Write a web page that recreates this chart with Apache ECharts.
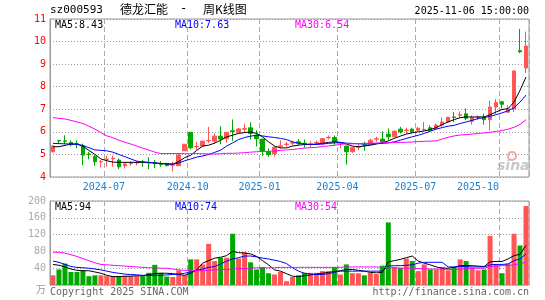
<!DOCTYPE html>
<html>
<head>
<meta charset="utf-8">
<script src="https://cdn.jsdelivr.net/npm/echarts@6/dist/echarts.min.js"></script>
<style>
  html, body { margin: 0; padding: 0; background: #fff; }
  #main { width: 545px; height: 300px; }
</style>
</head>
<body>
<div id="main"></div>
<script>
// 周K线 日期
var dates = [
  '2024-04-30','2024-05-10','2024-05-17','2024-05-24','2024-05-31','2024-06-07','2024-06-14','2024-06-21','2024-06-28','2024-07-05',
  '2024-07-12','2024-07-19','2024-07-26','2024-08-02','2024-08-09','2024-08-16','2024-08-23','2024-08-30','2024-09-06','2024-09-13',
  '2024-09-20','2024-09-27','2024-09-30','2024-10-11','2024-10-18','2024-10-25','2024-11-01','2024-11-08','2024-11-15','2024-11-22',
  '2024-11-29','2024-12-06','2024-12-13','2024-12-20','2024-12-27','2025-01-03','2025-01-10','2025-01-17','2025-01-24','2025-01-27',
  '2025-02-07','2025-02-14','2025-02-21','2025-02-28','2025-03-07','2025-03-14','2025-03-21','2025-03-28','2025-04-03','2025-04-11',
  '2025-04-18','2025-04-25','2025-04-30','2025-05-09','2025-05-16','2025-05-23','2025-05-30','2025-06-06','2025-06-13','2025-06-20',
  '2025-06-27','2025-07-04','2025-07-11','2025-07-18','2025-07-25','2025-08-01','2025-08-08','2025-08-15','2025-08-22','2025-08-29',
  '2025-09-05','2025-09-12','2025-09-19','2025-09-26','2025-09-30','2025-10-10','2025-10-17','2025-10-24','2025-10-31','2025-11-06'
];

// [开盘, 收盘, 最低, 最高]
var kData = [
  [5.12,5.37,5.08,5.42],[5.62,5.60,5.50,5.63],[5.60,5.58,5.45,5.85],[5.53,5.43,5.35,5.62],[5.47,5.45,5.28,5.62],
  [5.37,4.97,4.52,5.48],[5.02,5.00,4.78,5.12],[4.90,4.68,4.50,4.97],[4.67,4.69,4.42,4.75],[4.78,4.80,4.45,4.95],
  [4.80,4.83,4.45,4.95],[4.75,4.45,4.35,4.82],[4.50,4.58,4.38,4.65],[4.59,4.61,4.50,4.70],[4.62,4.64,4.52,4.72],
  [4.66,4.64,4.45,4.75],[4.64,4.62,4.35,4.88],[4.63,4.61,4.40,4.75],[4.57,4.55,4.45,4.70],[4.60,4.50,4.48,4.62],
  [4.52,4.54,4.25,4.68],[4.50,4.97,4.50,5.05],[5.16,5.45,5.16,5.45],[5.98,5.30,5.22,5.98],[5.33,5.35,5.20,5.55],
  [5.37,5.59,5.37,5.59],[5.60,5.62,5.50,6.22],[5.59,5.81,5.50,5.93],[5.81,5.68,5.45,6.25],[5.70,5.98,5.52,5.98],
  [6.05,6.02,5.60,6.55],[5.98,6.13,5.98,6.18],[6.12,6.14,5.98,6.36],[6.18,5.93,5.67,6.43],[5.85,5.70,5.35,6.07],
  [5.68,5.15,4.94,5.68],[5.12,5.00,4.90,5.26],[5.04,5.32,4.90,5.34],[5.36,5.38,5.26,5.63],[5.44,5.46,5.34,5.56],
  [5.50,5.52,5.40,5.60],[5.56,5.50,5.40,5.68],[5.50,5.48,5.30,5.66],[5.45,5.47,5.30,5.60],[5.51,5.53,5.43,5.62],
  [5.50,5.70,5.40,5.70],[5.74,5.76,5.66,5.84],[5.75,5.56,5.42,5.84],[5.50,5.52,5.27,5.56],[5.37,5.12,4.55,5.37],
  [5.12,5.30,5.07,5.34],[5.32,5.34,5.20,5.44],[5.42,5.40,5.16,5.56],[5.46,5.63,5.41,5.70],[5.68,5.70,5.56,5.78],
  [5.68,5.56,5.47,6.03],[5.90,5.78,5.63,6.15],[5.78,6.03,5.75,6.07],[6.12,6.00,5.93,6.22],[6.06,6.08,5.93,6.18],
  [6.12,6.00,5.93,6.18],[6.07,6.16,6.03,6.22],[6.09,6.11,6.03,6.44],[6.18,6.07,6.00,6.29],[6.15,6.30,6.07,6.37],
  [6.30,6.44,6.22,6.63],[6.44,6.65,6.41,6.65],[6.66,6.64,6.44,6.88],[6.74,6.76,6.60,6.91],[6.80,6.60,6.52,7.03],
  [6.47,6.62,6.32,6.73],[6.64,6.66,6.52,6.73],[6.66,6.54,6.32,6.81],[6.54,7.10,6.06,7.38],[7.10,7.30,6.80,7.45],
  [7.33,7.22,7.04,7.38],[6.87,7.02,6.84,7.18],[7.02,8.70,6.88,8.70],[9.60,9.55,9.49,10.56],[8.83,9.80,8.60,10.44]
];

var ma5 = [
  5.34,5.34,5.40,5.46,5.46,5.36,5.18,5.00,4.80,4.72,4.66,4.65,4.65,4.65,4.65,4.65,4.64,4.62,4.60,4.58,
  4.57,4.68,4.86,4.96,5.18,5.37,5.41,5.50,5.63,5.78,5.85,5.93,5.97,5.99,5.93,5.78,5.56,5.37,5.29,5.29,
  5.37,5.41,5.44,5.44,5.46,5.49,5.53,5.56,5.53,5.46,5.37,5.34,5.37,5.41,5.46,5.51,5.60,5.71,5.81,5.90,
  5.96,6.00,6.04,6.10,6.19,6.32,6.44,6.54,6.63,6.66,6.66,6.66,6.66,6.76,6.88,6.99,7.03,7.32,7.84,8.43
];
var ma10 = [
  5.49,5.48,5.47,5.46,5.45,5.40,5.30,5.20,5.18,5.16,5.10,5.00,4.90,4.80,4.70,4.67,4.65,4.62,4.60,4.58,
  4.57,4.62,4.72,4.80,4.88,4.93,5.00,5.09,5.19,5.37,5.51,5.66,5.75,5.81,5.85,5.82,5.78,5.75,5.71,5.66,
  5.56,5.49,5.46,5.44,5.44,5.46,5.49,5.51,5.53,5.50,5.49,5.47,5.46,5.46,5.49,5.49,5.51,5.56,5.63,5.71,
  5.78,5.85,5.93,6.03,6.12,6.19,6.25,6.29,6.37,6.44,6.51,6.59,6.63,6.69,6.76,6.84,6.93,7.07,7.32,7.63
];
var ma30 = [
  6.63,6.60,6.57,6.51,6.44,6.37,6.25,6.12,5.97,5.82,5.74,5.63,5.54,5.46,5.37,5.28,5.19,5.10,5.04,5.04,
  5.04,5.04,5.03,5.03,5.04,5.03,5.02,5.02,5.03,5.05,5.05,5.06,5.08,5.10,5.12,5.13,5.14,5.15,5.18,5.20,
  5.22,5.25,5.28,5.30,5.31,5.35,5.38,5.40,5.45,5.47,5.47,5.48,5.49,5.50,5.50,5.52,5.52,5.53,5.53,5.54,
  5.55,5.57,5.58,5.59,5.60,5.68,5.76,5.82,5.86,5.88,5.90,5.93,5.95,5.98,6.02,6.06,6.12,6.20,6.33,6.54
];

// 成交量（万手）
var volumes = [
  23,37,51,31,31,35,21,23,23,21,21,21,21,21,21,21,29,48,29,20,
  19,35,23,61,61,49,98,57,65,65,122,63,78,54,37,43,28,25,31,9,
  19,23,29,29,29,33,33,43,25,49,28,28,23,29,26,46,149,43,41,63,
  57,33,49,37,37,43,35,43,61,57,41,35,37,117,49,28,51,122,94,188
];
var volMa5 = [
  49,47,43,38,35,34,34,31,28,23,20,20,21,21,22,22,25,27,28,28,
  27,25,23,28,36,52,58,64,66,70,80,77,76,74,68,58,48,36,33,27,
  21,20,22,24,26,28,30,32,34,37,37,35,33,30,29,30,55,58,61,65,
  69,57,52,48,43,40,40,42,46,46,46,45,44,55,56,56,62,70,73,94
];
var volMa10 = [
  57,54,49,44,42,41,40,38,36,33,30,28,26,25,24,23,23,23,23,24,
  25,26,28,31,35,38,42,44,50,57,62,65,69,69,67,64,62,59,56,51,
  41,33,28,26,25,25,27,30,33,33,33,33,33,33,33,33,45,46,46,47,
  48,52,54,54,54,54,43,43,44,44,43,43,43,48,49,49,50,58,62,74
];
var volMa30 = [
  78,78,76,72,68,63,58,53,49,48,47,46,45,44,43,42,41,41,40,40,
  38,36,35,34,34,34,35,36,36,37,38,39,39,40,41,41,41,41,42,42,
  42,42,42,42,42,42,42,42,42,43,43,43,43,43,43,42,41,41,40,40,
  40,39,39,38,38,38,37,37,38,39,40,40,40,44,45,46,46,48,51,54
];

// 坐标轴刻度
var priceMin = 4, priceMax = 11, priceStep = 1;
var volMin = 0, volMax = 200, volStep = 40;

var MONO = '"DejaVu Sans Mono", monospace';
var CJK = '"Noto Sans CJK SC", sans-serif';
var upColor = '#ff5555';
var downColor = '#00a800';

// 季度首周画竖虚线、标日期
function isQuarterStart(idx) {
  if (idx === 0) return false;
  var m = dates[idx].slice(5, 7);
  return m !== dates[idx - 1].slice(5, 7) && ['01', '04', '07', '10'].indexOf(m) >= 0;
}
var lastTickIdx = 0;
dates.forEach(function (d, i) { if (isQuarterStart(i)) lastTickIdx = i; });

var chart = echarts.init(document.getElementById('main'), null, { renderer: 'canvas' });

function last(arr) { return arr[arr.length - 1]; }

var xCommon = {
  type: 'category',
  data: dates,
  boundaryGap: true,
  axisLine: { show: false },
  axisTick: { show: false },
  splitLine: {
    show: true,
    interval: function (idx) { return isQuarterStart(idx); },
    lineStyle: { color: '#aaa', type: [5, 3], width: 1 }
  }
};

var option = {
  animation: false,
  backgroundColor: '#fff',
  grid: [
    { left: 50, top: 19, width: 479, height: 158, show: true, borderColor: '#999', borderWidth: 1 },
    { left: 50, top: 201, width: 479, height: 84, show: true, borderColor: '#999', borderWidth: 1 }
  ],
  xAxis: [
    Object.assign({}, xCommon, {
      gridIndex: 0,
      axisLabel: {
        show: true,
        interval: function (idx) { return isQuarterStart(idx); },
        color: '#1a7fd0',
        fontFamily: MONO,
        fontSize: 10,
        margin: 5,
        formatter: function (val, idx) {
          return (idx === lastTickIdx ? '{r|' : '{c|') + val.slice(0, 7) + '}';
        },
        rich: {
          c: { color: '#1a7fd0', fontFamily: MONO, fontSize: 10, padding: [0, 6, 0, 0] },
          r: { color: '#1a7fd0', fontFamily: MONO, fontSize: 10, padding: [0, 48, 0, 0] }
        }
      }
    }),
    Object.assign({}, xCommon, { gridIndex: 1, axisLabel: { show: false } })
  ],
  yAxis: [
    {
      type: 'value', gridIndex: 0,
      min: priceMin, max: priceMax, interval: priceStep,
      axisLine: { show: true, lineStyle: { color: '#999' } },
      axisTick: { show: false },
      axisLabel: { color: '#ff0000', fontFamily: MONO, fontSize: 10, margin: 4 },
      splitLine: { lineStyle: { color: '#999', type: [1, 2] } }
    },
    {
      type: 'value', gridIndex: 1,
      min: volMin, max: volMax, interval: volStep,
      axisLine: { show: true, lineStyle: { color: '#999' } },
      axisTick: { show: false },
      axisLabel: {
        color: '#aaa', fontFamily: MONO, fontSize: 10, margin: 4,
        formatter: function (v) { return v === 0 ? '{u|万}' : String(v); },
        rich: { u: { color: '#999', fontFamily: CJK, fontSize: 10, padding: [8, 0, 0, 0] } }
      },
      splitLine: { lineStyle: { color: '#999', type: [1, 2] } }
    }
  ],
  series: [
    {
      name: 'K', type: 'candlestick', xAxisIndex: 0, yAxisIndex: 0,
      data: kData, barWidth: 4,
      itemStyle: { color: upColor, color0: downColor, borderColor: upColor, borderColor0: downColor, borderWidth: 1 }
    },
    { name: 'MA5', type: 'line', xAxisIndex: 0, yAxisIndex: 0, data: ma5, symbol: 'none', lineStyle: { color: '#000', width: 1 } },
    { name: 'MA10', type: 'line', xAxisIndex: 0, yAxisIndex: 0, data: ma10, symbol: 'none', lineStyle: { color: '#0000ff', width: 1 } },
    { name: 'MA30', type: 'line', xAxisIndex: 0, yAxisIndex: 0, data: ma30, symbol: 'none', lineStyle: { color: '#ff00ff', width: 1 } },
    {
      name: 'VOL', type: 'bar', xAxisIndex: 1, yAxisIndex: 1, barWidth: 5,
      data: volumes.map(function (v, i) {
        return { value: v, itemStyle: { color: kData[i][1] >= kData[i][0] ? upColor : downColor } };
      })
    },
    { name: 'VMA5', type: 'line', xAxisIndex: 1, yAxisIndex: 1, data: volMa5, symbol: 'none', lineStyle: { color: '#000', width: 1 } },
    { name: 'VMA10', type: 'line', xAxisIndex: 1, yAxisIndex: 1, data: volMa10, symbol: 'none', lineStyle: { color: '#0000ff', width: 1 } },
    { name: 'VMA30', type: 'line', xAxisIndex: 1, yAxisIndex: 1, data: volMa30, symbol: 'none', lineStyle: { color: '#ff00ff', width: 1 } }
  ],
  graphic: [
    { type: 'text', left: 50, top: 5, style: { text: 'sz000593', font: '11px ' + MONO, fill: '#000' } },
    { type: 'text', left: 120, top: 3, style: { text: '德龙汇能', font: '12px ' + CJK, fill: '#000' } },
    { type: 'text', left: 180, top: 3, style: { text: '-', font: '12px ' + MONO, fill: '#000' } },
    { type: 'text', left: 203, top: 3, style: { text: '周K线图', font: '12px ' + CJK, fill: '#000' } },
    { type: 'text', right: 16, top: 6, style: { text: '2025-11-06 15:00:00', font: '10px ' + MONO, fill: '#000' } },

    { type: 'text', left: 55, top: 20, style: { text: 'MA5:' + last(ma5).toFixed(2), font: '10px ' + MONO, fill: '#000' } },
    { type: 'text', left: 175, top: 20, style: { text: 'MA10:' + last(ma10).toFixed(2), font: '10px ' + MONO, fill: '#0000ff' } },
    { type: 'text', left: 295, top: 20, style: { text: 'MA30:' + last(ma30).toFixed(2), font: '10px ' + MONO, fill: '#ff00ff' } },

    { type: 'text', left: 55, top: 202, style: { text: 'MA5:' + last(volMa5), font: '10px ' + MONO, fill: '#000' } },
    { type: 'text', left: 175, top: 202, style: { text: 'MA10:' + last(volMa10), font: '10px ' + MONO, fill: '#0000ff' } },
    { type: 'text', left: 295, top: 202, style: { text: 'MA30:' + last(volMa30), font: '10px ' + MONO, fill: '#ff00ff' } },

    { type: 'text', left: 50, top: 287, style: { text: 'Copyright 2025 SINA.COM', font: '10px ' + MONO, fill: '#666' } },
    { type: 'text', right: 16, top: 287, style: { text: 'http://finance.sina.com.cn', font: '10px ' + MONO, fill: '#666' } },

    // 新浪水印
    { type: 'circle', shape: { cx: 512, cy: 156, r: 4 }, style: { fill: 'none', stroke: '#f5a5a5', lineWidth: 2 } },
    { type: 'text', left: 497, top: 159, style: { text: 'sina', font: 'italic bold 14px "DejaVu Sans", sans-serif', fill: '#c8c8c8' } }
  ]
};

chart.setOption(option);
</script>
</body>
</html>
